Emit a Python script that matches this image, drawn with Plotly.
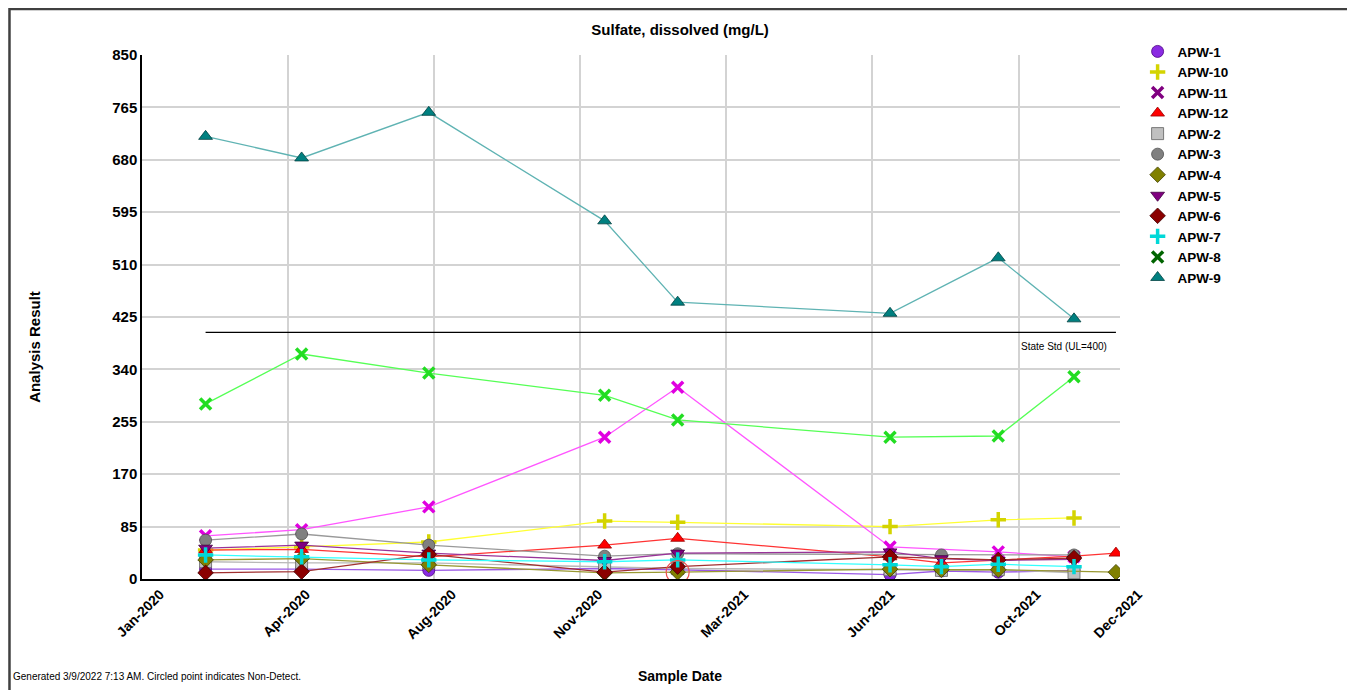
import plotly.graph_objects as go

# sample dates
d = ['2020-02-17', '2020-04-28', '2020-07-31', '2020-12-08', '2021-01-31',
     '2021-07-07', '2021-08-14', '2021-09-25', '2021-11-20', '2021-12-21']

apw1_x = [d[0], d[1], d[2], d[3], d[4], d[5], d[6], d[7], d[8]]
apw1_y = [16, 16, 14, 17, 15, 7, 13, 11, 14]
apw10_x = [d[0], d[1], d[2], d[3], d[4], d[5], d[7], d[8]]
apw10_y = [47, 52, 60, 94, 92, 85, 96, 99]
apw11_x = [d[0], d[1], d[2], d[3], d[4], d[5], d[7], d[8]]
apw11_y = [70, 80, 117, 230, 311, 52, 44, 36]
apw12_x = [d[0], d[1], d[2], d[3], d[4], d[5], d[6], d[8], d[9]]
apw12_y = [47, 48, 36, 55, 66, 36, 26, 37, 42]
apw2_x = [d[0], d[1], d[2], d[3], d[4], d[5], d[6], d[7], d[8]]
apw2_y = [28, 26, 26, 20, 17, 15, 14, 15, 10]
apw3_x = [d[0], d[1], d[2], d[3], d[4], d[6], d[8]]
apw3_y = [63, 73, 55, 37, 41, 39, 39]
apw4_x = [d[0], d[1], d[2], d[3], d[4], d[5], d[6], d[7], d[9]]
apw4_y = [31, 33, 23, 10, 11, 16, 15, 15, 11]
apw5_x = [d[0], d[1], d[2], d[3], d[4], d[5], d[6], d[7], d[8]]
apw5_y = [50, 55, 42, 30, 42, 44, 33, 30, 32]
apw6_x = [d[0], d[1], d[2], d[3], d[4], d[5], d[7], d[8]]
apw6_y = [10, 12, 40, 11, 20, 36, 31, 34]
apw7_x = [d[0], d[1], d[2], d[3], d[4], d[5], d[6], d[7], d[8]]
apw7_y = [39, 36, 31, 28, 31, 23, 20, 24, 20]
apw8_x = [d[0], d[1], d[2], d[3], d[4], d[5], d[7], d[8]]
apw8_y = [284, 365, 334, 298, 258, 230, 232, 328]
apw9_x = [d[0], d[1], d[2], d[3], d[4], d[5], d[7], d[8]]
apw9_y = [718, 683, 757, 581, 449, 431, 521, 422]

# non-detect (APW-4)
nd_x = [d[4]]
nd_y = [11]

state_std = 400
std_x = [d[0], d[9]]

tick_dates = ['2020-01-01', '2020-04-18', '2020-08-04', '2020-11-20',
              '2021-03-08', '2021-06-24', '2021-10-10', '2021-12-24']
tick_text = ['Jan-2020', 'Apr-2020', 'Aug-2020', 'Nov-2020',
             'Mar-2021', 'Jun-2021', 'Oct-2021', 'Dec-2021']

wells = [
    ('APW-1', apw1_x, apw1_y, 'circle', '#8a2be2', '#9b59e6', '#4b0082'),
    ('APW-10', apw10_x, apw10_y, 'cross-thin', '#d4d400', '#ffff33', '#666600'),
    ('APW-11', apw11_x, apw11_y, 'x-thin', '#e000e0', '#ff55ff', '#800080'),
    ('APW-12', apw12_x, apw12_y, 'triangle-up', '#ff0000', '#ff3333', '#990000'),
    ('APW-2', apw2_x, apw2_y, 'square', '#c0c0c0', '#b8b8b8', '#606060'),
    ('APW-3', apw3_x, apw3_y, 'circle', '#808080', '#999999', '#505050'),
    ('APW-4', apw4_x, apw4_y, 'diamond', '#808000', '#999933', '#404000'),
    ('APW-5', apw5_x, apw5_y, 'triangle-down', '#800080', '#993399', '#400040'),
    ('APW-6', apw6_x, apw6_y, 'diamond', '#8b0000', '#a03030', '#400000'),
    ('APW-7', apw7_x, apw7_y, 'cross-thin', '#00d8d8', '#33ffff', '#008080'),
    ('APW-8', apw8_x, apw8_y, 'x-thin', '#22dd22', '#55ff55', '#006400'),
    ('APW-9', apw9_x, apw9_y, 'triangle-up', '#008080', '#5fb3b3', '#004040'),
]


def marker_for(sym, mc, oc, legend=False):
    if sym.endswith('-thin'):
        col = oc if legend and sym.startswith('x') else mc
        return dict(symbol=sym, size=11, color=col, line=dict(color=col, width=3.5))
    return dict(symbol=sym, size=12, color=mc, line=dict(color=oc, width=0.8))


fig = go.Figure()
for name, xs, ys, sym, mc, lc, oc in wells:
    fig.add_trace(go.Scatter(
        x=xs, y=ys, name=name, mode='lines+markers', showlegend=False,
        line=dict(color=lc, width=1.3), marker=marker_for(sym, mc, oc)))

# legend entries show the symbol only
for name, xs, ys, sym, mc, lc, oc in wells:
    fig.add_trace(go.Scatter(x=[None], y=[None], name=name, mode='markers',
                             marker=marker_for(sym, mc, oc, legend=True)))

fig.add_trace(go.Scatter(x=std_x, y=[state_std, state_std], mode='lines', showlegend=False,
                         line=dict(color='black', width=1.2)))

fig.add_trace(go.Scatter(x=nd_x, y=nd_y, mode='markers', showlegend=False,
                         marker=dict(symbol='circle-open', size=23, color='#f05050',
                                     line=dict(width=1.2))))

bold = dict(family='Arial, Liberation Sans', color='black', weight='bold')
plain = dict(family='Arial, Liberation Sans', color='black')

fig.update_layout(
    width=1355, height=690,
    margin=dict(l=134, r=243, t=47, b=119),
    paper_bgcolor='white', plot_bgcolor='white',
    title=dict(text='Sulfate, dissolved (mg/L)', x=0.496, xanchor='center',
               y=1 - 22 / 690, yanchor='middle', font=dict(size=15, **bold)),
    legend=dict(x=1.018, y=1.036, xanchor='left', yanchor='top',
                font=dict(size=13.5, **bold), tracegroupgap=0, itemwidth=30),
    showlegend=True,
)

fig.update_xaxes(type='date', range=['2020-01-01', '2021-12-24'],
                 tickvals=tick_dates, ticktext=tick_text, tickangle=-45,
                 tickfont=dict(size=14, **bold), ticklabelshift=18,
                 showgrid=True, gridcolor='#d3d3d3', gridwidth=1.5,
                 showline=True, linecolor='black', linewidth=1.5, zeroline=False)
fig.update_yaxes(range=[0, 850], dtick=85, tick0=0,
                 tickfont=dict(size=15, **bold),
                 showgrid=True, gridcolor='#d3d3d3', gridwidth=1.5,
                 showline=True, linecolor='black', linewidth=1.5, zeroline=False)

fig.add_annotation(text='Analysis Result', textangle=-90, xref='paper', yref='paper',
                   x=-0.1094, y=0.443, xanchor='center', yanchor='middle',
                   showarrow=False, font=dict(size=15, **bold))
fig.add_annotation(text='Sample Date', xref='paper', yref='paper',
                   x=0.55, y=-0.185, xanchor='center', yanchor='middle',
                   showarrow=False, font=dict(size=14, **bold))
fig.add_annotation(text='Generated 3/9/2022 7:13 AM. Circled point indicates Non-Detect.',
                   xref='paper', yref='paper', x=-0.134, y=-0.187, xanchor='left',
                   yanchor='middle', showarrow=False, font=dict(size=10, **plain))
fig.add_annotation(text='State Std (UL=400)', xref='paper', yref='y', x=0.897, y=state_std,
                   yshift=-14, xanchor='left', showarrow=False, font=dict(size=10, **plain))

# outer frame around the whole chart
fig.add_shape(type='rect', xref='paper', yref='paper', x0=-0.1355, x1=1.234, y0=-0.3, y1=1.0878,
              line=dict(color='#404040', width=2.5), layer='below')

fig.write_html("out.html")
